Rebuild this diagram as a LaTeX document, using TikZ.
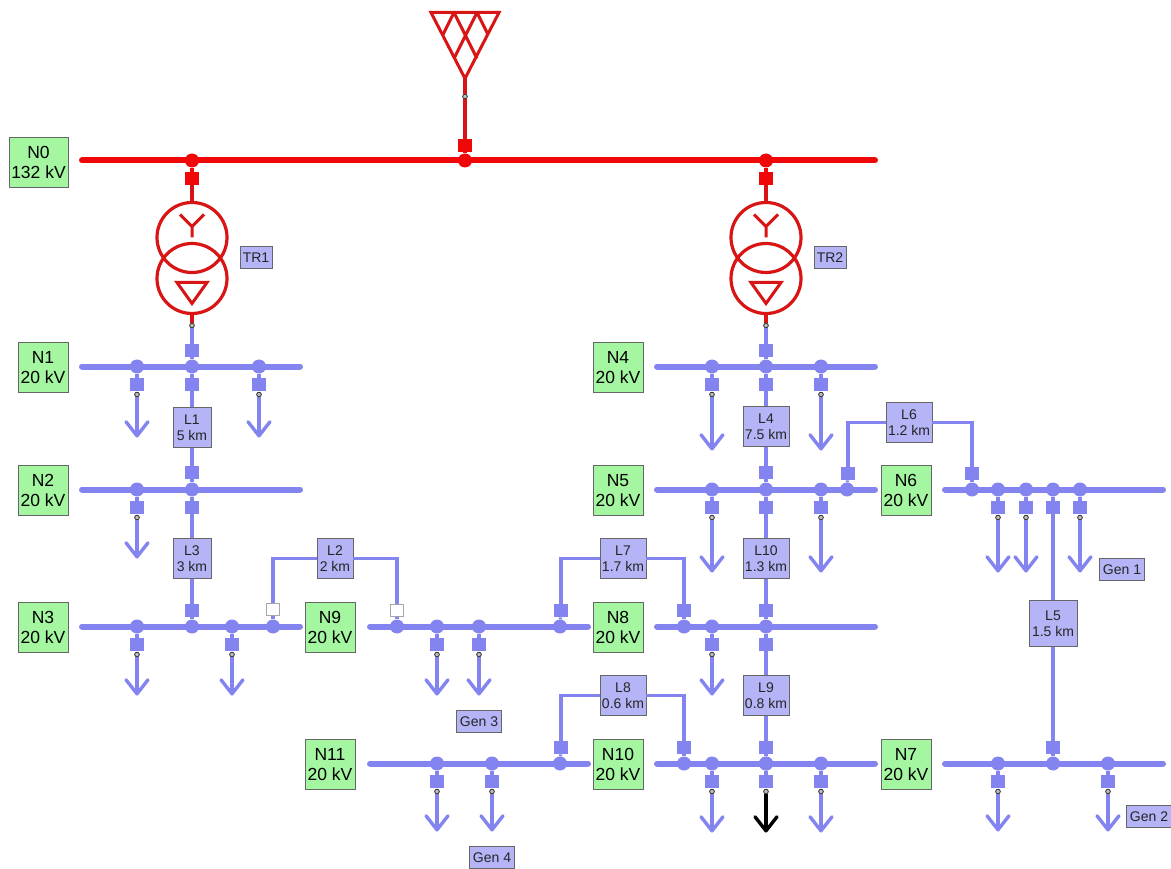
\documentclass[tikz,border=0pt]{standalone}
\usepackage{fontspec}
\setmainfont{Liberation Sans}
\usetikzlibrary{arrows.meta}
\definecolor{bl}{HTML}{8484F0}
\definecolor{lbl}{HTML}{B4B4F6}
\definecolor{grn}{HTML}{A4F6A0}
\definecolor{rd}{HTML}{F00808}
\definecolor{rd2}{HTML}{D81414}
\tikzset{
 x=1pt,y=-1pt,
 busline/.style={line width=6pt,line cap=round},
 wire/.style={line width=3.4pt},
 jdot/.style={circle,fill=#1,inner sep=0pt,minimum size=14pt},
 jdot/.default=bl,
 brk/.style={rectangle,fill=#1,inner sep=0pt,minimum size=13.5pt},
 brk/.default=bl,
 openbrk/.style={rectangle,fill=white,draw=gray!70,line width=0.6pt,inner sep=0pt,minimum size=12.5pt},
 tiny/.style={circle,draw=black!80,fill=black!25,line width=0.7pt,inner sep=0pt,minimum size=4.5pt},
 volt/.style={rectangle,draw=black!60,line width=0.8pt,fill=grn,text=black,inner sep=0pt,minimum width=50pt,minimum height=50pt,align=center,font=\fontsize{17.5}{20.5}\selectfont},
 line/.style={rectangle,draw=black!60,line width=0.8pt,fill=lbl,text=black!85,inner sep=0pt,minimum height=40pt,minimum width=#1,align=center,font=\fontsize{14}{16}\selectfont},
 line/.default=46pt,
 tag/.style={rectangle,draw=black!60,line width=0.8pt,fill=lbl,text=black!85,inner sep=0pt,minimum height=22pt,minimum width=#1,align=center,font=\fontsize{14}{16}\selectfont},
 tag/.default=45pt,
 barb/.style={-{Straight Barb[length=14pt,width=22pt,line width=3.4pt,round]}},
 coil/.style={circle,draw=rd2,line width=3.2pt,fill=none,inner sep=0pt,minimum size=70pt},
}
% \busbar{name}{x1}{x2}{y}
\newcommand{\busbar}[4]{%
  \coordinate (#1l) at (#2+2,#4);\coordinate (#1r) at (#3-2,#4);
  \draw[busline,bl] (#1l) -- (#1r);}
% \feeder{name}{x}{busy}{tipy}{colour of the arrow}
\newcommand{\feeder}[5]{%
  \node[jdot] (#1d) at (#2,#3) {};
  \node[brk] (#1b) at (#2,#3+18) {};
  \node[tiny] (#1c) at (#2,#3+28) {};
  \coordinate (#1t) at (#2,#4);
  \draw[wire,bl] (#1d) -- (#1b);
  \draw[wire,#5,barb] (#1c) -- (#1t);
  \node[tiny] at (#1c) {};}
\begin{document}
\begin{tikzpicture}
\useasboundingbox (0,-0.5) rectangle (1171,868.5);
\fill[white] (0,-0.5) rectangle (1171,868.5);
% ---------- source
\coordinate (aL) at (431,12); \coordinate (aR) at (499,12); \coordinate (aA) at (465,78);
\coordinate (a1) at (454,12); \coordinate (a2) at (477,12);
\coordinate (a3) at (477,58); \coordinate (a4) at (454,58);
\coordinate (a5) at (443,34); \coordinate (a6) at (488,34);
\draw[rd2,line width=3pt,line join=miter] (aL) -- (aR) -- (aA) -- cycle;
\draw[rd2,line width=3pt] (a1) -- (a3) (a2) -- (a4) (a1) -- (a5) (a2) -- (a6);
\coordinate (n0l) at (82,160); \coordinate (n0r) at (875,160);
\draw[busline,rd] (n0l) -- (n0r);
\node[jdot=rd] (d0a) at (192,160) {};
\node[jdot=rd] (d0b) at (465,160) {};
\node[jdot=rd] (d0c) at (766,160) {};
\node[brk=rd] (b0b) at (465,145) {};
\node[tiny] (c0b) at (465,96) {};
\draw[wire,rd2] (aA) -- (c0b) -- (b0b) -- (d0b);
\node[tiny] at (c0b) {};
% ---------- transformers
\node[brk=rd] (b0a) at (192,178) {};
\node[brk=rd] (b0c) at (766,178) {};
\node[coil] (t1a) at (192,237) {};
\node[coil] (t1b) at (192,278) {};
\node[coil] (t2a) at (766,237) {};
\node[coil] (t2b) at (766,278) {};
\draw[wire,rd] (d0a) -- (b0a);
\draw[wire,rd] (d0c) -- (b0c);
\draw[wire,rd2] (b0a) -- (t1a);
\draw[wire,rd2] (b0c) -- (t2a);
\foreach \X/\N in {192/1,766/2}{
 \draw[rd2,line width=3pt] (\X-12,214) -- (\X,226) -- (\X+12,214) (\X,226) -- (\X,237);
 \draw[rd2,line width=3pt,line join=miter] (\X-15,282) -- (\X+15,282) -- (\X,303) -- cycle;
}
\node[tag=32pt] (tr1) at (256,257) {TR1};
\node[tag=32pt] (tr2) at (830,257) {TR2};
\node[tiny] (c1) at (192,325) {};
\node[tiny] (c2) at (766,325) {};
\draw[wire,rd2] (t1b) -- (c1);
\draw[wire,rd2] (t2b) -- (c2);
% ---------- bus bars
\busbar{n1}{80}{302}{366}
\busbar{n2}{80}{302}{489}
\busbar{n3}{80}{302}{626}
\busbar{n9}{368}{590}{626}
\busbar{n4}{655}{877}{366}
\busbar{n5}{655}{877}{489}
\busbar{n8}{655}{877}{626}
\busbar{n10}{655}{877}{763}
\busbar{n11}{368}{590}{763}
\busbar{n6}{943}{1165}{489}
\busbar{n7}{943}{1165}{763}
% ---------- outgoing feeders
\feeder{f1a}{137}{366}{437}{bl}
\feeder{f1b}{259}{366}{437}{bl}
\feeder{f2a}{137}{489}{558}{bl}
\feeder{f3a}{137}{626}{695}{bl}
\feeder{f3b}{232}{626}{695}{bl}
\feeder{f9a}{437}{626}{695}{bl}
\feeder{f9b}{479}{626}{695}{bl}
\feeder{f4a}{712}{366}{450}{bl}
\feeder{f4b}{821}{366}{450}{bl}
\feeder{f5a}{712}{489}{572}{bl}
\feeder{f5b}{821}{489}{572}{bl}
\feeder{f8a}{712}{626}{695}{bl}
\feeder{f10a}{712}{763}{832}{bl}
\feeder{f10b}{821}{763}{832}{bl}
\feeder{f10c}{766}{763}{832}{black}
\feeder{f11a}{437}{763}{831}{bl}
\feeder{f11b}{492}{763}{831}{bl}
\feeder{f6a}{998}{489}{572}{bl}
\feeder{f6b}{1026}{489}{572}{bl}
\feeder{f6c}{1080}{489}{572}{bl}
\feeder{f7a}{998}{763}{831}{bl}
\feeder{f7b}{1108}{763}{831}{bl}
% ---------- junctions and breakers
\foreach \n/\x/\y in {j1/192/366,j2/192/489,j3/192/626,j3b/273/626,j9/397/626,j9b/560/626,
  j4/766/366,j5/766/489,j5b/847/489,j8/766/626,j8b/684/626,j10/766/763,j10b/684/763,j11/560/763,
  j6/972/489,j6b/1053/489,j7/1053/763}
 {\node[jdot] (\n) at (\x,\y) {};}
\foreach \n/\x/\y in {b1t/192/350,b1b/192/384,b2t/192/472,b2b/192/507,b3t/192/610,
  b4t/766/350,b4b/766/384,b5t/766/472,b5b/766/507,b8t/766/610,b8b/766/644,b10t/766/747,
  b5r/848/473,b6l/972/473,b6s/1053/507,b7t/1053/747,
  b9r/561/610,b8l/684/610,b11r/561/747,b10l/684/747}
 {\node[brk] (\n) at (\x,\y) {};}
\node[openbrk] (b3w) at (273,609) {};
\node[openbrk] (b9w) at (397,610) {};
% ---------- line labels
\node[line=38pt] (L1) at (192,427) {L1\\5 km};
\node[line=38pt] (L3) at (192,558) {L3\\3 km};
\node[line=36pt] (L2) at (335,558) {L2\\2 km};
\node[line] (L4) at (766,426) {L4\\7.5 km};
\node[line] (L6) at (909,422) {L6\\1.2 km};
\node[line] (L10) at (766,558) {L10\\1.3 km};
\node[line] (L7) at (623,558) {L7\\1.7 km};
\node[line] (L9) at (766,695) {L9\\0.8 km};
\node[line] (L8) at (623,695) {L8\\0.6 km};
\node[line=48pt,minimum height=46pt] (L5) at (1053,623) {L5\\1.5 km};
% ---------- connectors
\draw[wire,bl] (c1) -- (b1t);
\draw[wire,bl] (c2) -- (b4t);
\node[tiny] at (c1) {};
\node[tiny] at (c2) {};
\draw[wire,bl] (b1t) -- (j1) -- (b1b) -- (L1) -- (b2t) -- (j2) -- (b2b) -- (L3) -- (b3t) -- (j3);
\draw[wire,bl] (b4t) -- (j4) -- (b4b) -- (L4) -- (b5t) -- (j5) -- (b5b) -- (L10) -- (b8t) -- (j8) -- (b8b) -- (L9) -- (b10t) -- (j10);
\draw[wire,bl] (j3b) -- (b3w);
\draw[wire,bl] (b3w) |- (L2);
\draw[wire,bl] (b9w) |- (L2);
\draw[wire,bl] (b9w) -- (j9);
\draw[wire,bl] (j9b) -- (b9r);
\draw[wire,bl] (b9r) |- (L7);
\draw[wire,bl] (b8l) |- (L7);
\draw[wire,bl] (b8l) -- (j8b);
\draw[wire,bl] (j11) -- (b11r);
\draw[wire,bl] (b11r) |- (L8);
\draw[wire,bl] (b10l) |- (L8);
\draw[wire,bl] (b10l) -- (j10b);
\draw[wire,bl] (j5b) -- (b5r);
\draw[wire,bl] (b5r) |- (L6);
\draw[wire,bl] (b6l) |- (L6);
\draw[wire,bl] (b6l) -- (j6);
\draw[wire,bl] (j6b) -- (b6s) -- (L5) -- (b7t) -- (j7);
% ---------- voltage labels
\node[volt,minimum width=59pt] (N0) at (38.5,162) {N0\\132 kV};
\node[volt] (N1) at (43,367) {N1\\20 kV};
\node[volt] (N2) at (43,490) {N2\\20 kV};
\node[volt] (N3) at (43,627) {N3\\20 kV};
\node[volt] (N9) at (330,627) {N9\\20 kV};
\node[volt] (N4) at (618,367) {N4\\20 kV};
\node[volt] (N5) at (618,490) {N5\\20 kV};
\node[volt] (N8) at (618,627) {N8\\20 kV};
\node[volt] (N10) at (618,764) {N10\\20 kV};
\node[volt] (N11) at (330,764) {N11\\20 kV};
\node[volt] (N6) at (906,490) {N6\\20 kV};
\node[volt] (N7) at (906,764) {N7\\20 kV};
% ---------- generator tags
\node[tag] (G1) at (1122,569) {Gen 1};
\node[tag] (G2) at (1149,816) {Gen 2};
\node[tag] (G3) at (479,721) {Gen 3};
\node[tag] (G4) at (492,857) {Gen 4};
\end{tikzpicture}
\end{document}
